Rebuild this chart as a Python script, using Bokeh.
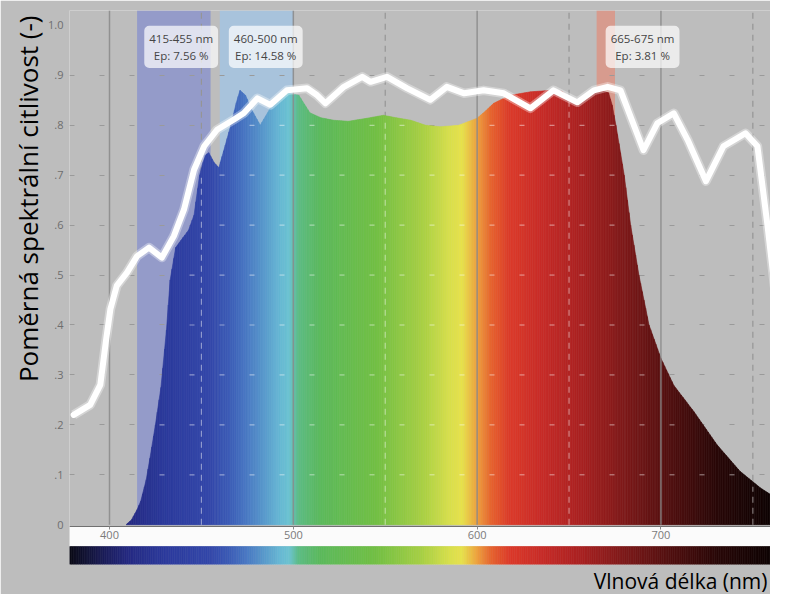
import numpy as np
from bokeh.plotting import figure
from bokeh.models import FixedTicker, Title, Label
from bokeh.embed import file_html
from bokeh.resources import INLINE

# ---------------- data ----------------
# LED emission spectrum (relative)
spec_wl = [409, 412, 415, 417, 420, 422, 425, 428, 431, 433, 436, 440, 443, 446, 449, 452, 454, 457, 459.5, 463,
           466, 469, 471, 474, 477.5, 482, 486, 490, 496, 503, 509, 515, 522, 530, 540, 549, 556, 564, 572, 580,
           590, 600, 605, 609, 618, 629, 640, 646, 651, 655, 659, 662, 667, 671.5, 673.5, 675.5, 678, 680, 683.5, 688,
           693.5, 700, 707, 718, 730.5, 743, 754, 768]
spec_val = [0, 0.01, 0.03, 0.047, 0.09, 0.133, 0.2, 0.275, 0.39, 0.49, 0.555, 0.575, 0.59, 0.62, 0.70, 0.74, 0.745, 0.725, 0.715, 0.76,
            0.80, 0.845, 0.87, 0.86, 0.83, 0.80, 0.825, 0.85, 0.865, 0.86, 0.825, 0.815, 0.81, 0.808, 0.814, 0.82, 0.815, 0.81, 0.80, 0.797,
            0.80, 0.814, 0.83, 0.844, 0.86, 0.867, 0.87, 0.868, 0.855, 0.84, 0.855, 0.864, 0.87, 0.865, 0.84, 0.80, 0.745, 0.70, 0.60, 0.50,
            0.40, 0.333, 0.279, 0.226, 0.16, 0.107, 0.074, 0.04]

# relative spectral sensitivity (white curve)
sens_wl = [380.5, 389.5, 395, 398, 400.5, 404, 409.5, 415, 421.5, 428.5, 435, 440.5, 446, 451.5, 458.5, 467.5, 473, 480.5,
           487.5, 496.5, 507.5, 513, 517.5, 527.5, 537.5, 542, 551, 562, 574.5, 583.5, 593, 603.5, 614.5, 629, 641.5, 654.5,
           663.5, 671, 678, 683.5, 690.5, 698, 707, 714.5, 724.5, 734, 746, 752.5, 758, 763, 768]
sens_val = [0.22, 0.24, 0.28, 0.366, 0.432, 0.479, 0.505, 0.538, 0.555, 0.535, 0.578, 0.631, 0.711, 0.758, 0.791, 0.811, 0.824, 0.854,
            0.841, 0.87, 0.874, 0.86, 0.844, 0.877, 0.897, 0.887, 0.897, 0.874, 0.851, 0.877, 0.864, 0.87, 0.864, 0.834, 0.87, 0.846,
            0.87, 0.877, 0.87, 0.817, 0.75, 0.804, 0.824, 0.771, 0.688, 0.758, 0.784, 0.758, 0.598, 0.439, 0.611]

# highlighted bands
band_lo = [415, 460, 665]
band_hi = [455, 500, 675]
band_name = ["415-455 nm", "460-500 nm", "665-675 nm"]
band_ep = ["Ep: 7.56 %", "Ep: 14.58 %", "Ep: 3.81 %"]

# ticks
x_ticks = [400, 500, 600, 700]
x_half_ticks = [450, 550, 650, 750]
y_ticks = [0, 0.1, 0.2, 0.3, 0.4, 0.5, 0.6, 0.7, 0.8, 0.9, 1.0]
y_tick_labels = ["0", ".1", ".2", ".3", ".4", ".5", ".6", ".7", ".8", ".9", "1.0"]
y_grid_ticks = [0.1, 0.2, 0.3, 0.4, 0.5, 0.6, 0.7, 0.8, 0.9]

# wavelength -> colour stops
cmap_wl = [378, 395, 410, 430, 455, 465, 475, 485, 492, 498, 503, 515, 545, 570, 585, 592, 600, 608, 618, 635, 655, 680, 705, 730, 768]
cmap_hex = ["#0a0a14", "#1a1b52", "#252a82", "#2c3a9c", "#3448aa", "#3c5cb6", "#4a7ac4", "#5a9ccc", "#66b6d4", "#6cc4d2",
            "#5cbc84", "#5cba5c", "#72c044", "#a8d044", "#d8e04c", "#e8e24c", "#eea23e", "#e6622e", "#dc3a2a", "#c82c28",
            "#ac2222", "#7e1a1a", "#521010", "#2a0808", "#060202"]

# ---------------- layout / style ----------------
BG = "#bdbdbd"
W, H = 770, 594
LEFT, TOP, BOTTOM = 69, 10, 27
x_start, x_end = 378.24, 759.6
y_start, y_end = -0.0797, 1.0299
px_per_nm = (W - LEFT) / (x_end - x_start)
band_colors = ["#949bc9", "#a8c3dc", "#d79b8e"]
label_dx = [4, 5, 20]
label_y = 0.957
FONT = "Open Sans"

_rgb = np.array([[int(h[i:i + 2], 16) for i in (1, 3, 5)] for h in cmap_hex], dtype=float)


def wl_color(w):
    r, g, b = (int(round(np.interp(w, cmap_wl, _rgb[:, k]))) for k in range(3))
    return "#%02x%02x%02x" % (r, g, b)


def spec_at(w):
    return np.interp(w, spec_wl, spec_val, left=0.0, right=spec_val[-1])


p = figure(width=W, height=H, x_range=(x_start, x_end), y_range=(y_start, y_end),
           output_backend="svg", toolbar_location=None,
           min_border_left=LEFT, min_border_right=0, min_border_top=TOP, min_border_bottom=BOTTOM,
           background_fill_color=BG, border_fill_color=BG, outline_line_color=None)

# bands (behind everything)
p.quad(left=band_lo, right=band_hi, bottom=0, top=y_end, fill_color=band_colors, line_color=None, level="underlay")

# grid: horizontal dashed
p.xgrid.visible = False
p.ygrid.ticker = FixedTicker(ticks=y_grid_ticks)
p.ygrid.grid_line_color = "#9a9a9a"
p.ygrid.grid_line_dash = "5 25"
p.ygrid.grid_line_width = 1.2

# vertical dashed at half-hundreds (below fill)
p.segment(x0=x_half_ticks, y0=0, x1=x_half_ticks, y1=y_end, line_color="#959595", line_width=1.2, line_dash="6 5")

# spectrum fill, coloured by wavelength
xs, ys, cols = [], [], []
for i in range(len(spec_wl) - 1):
    a, b = spec_wl[i], spec_wl[i + 1]
    ya, yb = spec_val[i], spec_val[i + 1]
    n = max(1, int(np.ceil(b - a)))
    for j in range(n):
        x0 = a + (b - a) * j / n
        x1 = a + (b - a) * (j + 1) / n
        y0 = ya + (yb - ya) * j / n
        y1 = ya + (yb - ya) * (j + 1) / n
        xs.append([x0, x1, x1, x0])
        ys.append([0, 0, y1, y0])
        cols.append(wl_color((x0 + x1) / 2))
p.patches(xs=xs, ys=ys, fill_color=cols, line_color=cols, line_width=0.6)

# light grid marks over the fill
hx0, hx1, hy = [], [], []
period = 30 / px_per_nm
dash = 5 / px_per_nm
for v in y_grid_ticks:
    k = 0
    while True:
        a = x_start + k * period
        if a > x_end:
            break
        b = a + dash
        if min(spec_at(a), spec_at(b)) > v + 0.012:
            hx0.append(a); hx1.append(b); hy.append(v)
        k += 1
p.segment(x0=hx0, y0=hy, x1=hx1, y1=hy, line_color="white", line_alpha=0.45, line_width=1.2)
half_top = [float(spec_at(x)) - 0.01 for x in x_half_ticks]
p.segment(x0=x_half_ticks, y0=0, x1=x_half_ticks, y1=half_top, line_color="white", line_alpha=0.45,
          line_width=1.2, line_dash="6 5")

# solid vertical lines at hundreds
p.segment(x0=x_ticks, y0=0, x1=x_ticks, y1=y_end, line_color="#8a8a8a", line_alpha=0.85, line_width=1.5)

# sensitivity curve
p.line(sens_wl, sens_val, line_color="white", line_alpha=0.35, line_width=9.5, line_join="round")
p.line(sens_wl, sens_val, line_color="white", line_width=6, line_join="round", line_cap="round")

# white strip + colour bar under the plot
p.quad(left=x_start, right=x_end, bottom=-0.0438, top=-0.004, fill_color="#fbfbfb", line_color=None)
cb_edges = np.arange(x_start, x_end + 1.0, 1.0)
cb_cols = [wl_color((cb_edges[i] + cb_edges[i + 1]) / 2) for i in range(len(cb_edges) - 1)]
p.quad(left=cb_edges[:-1], right=cb_edges[1:], bottom=y_start, top=-0.0438,
       fill_color=cb_cols, line_color=cb_cols, line_width=0.6)

# band labels
for lo, hi, nm, ep, dx in zip(band_lo, band_hi, band_name, band_ep, label_dx):
    p.add_layout(Label(x=(lo + hi) / 2 + dx, y=label_y, text=nm + "\n" + ep, text_align="center",
                       text_baseline="middle", text_font=FONT, text_font_size="11.5px",
                       text_color="#454545", background_fill_color="white", background_fill_alpha=0.7,
                       padding=5, border_radius=5, text_line_height=1.15))

# axes
xa = p.xaxis[0]
xa.ticker = FixedTicker(ticks=x_ticks)
xa.fixed_location = -0.004
xa.axis_line_color = "#707070"
xa.major_tick_in = 0
xa.major_tick_out = 3
xa.major_tick_line_color = "#8a8a8a"
xa.minor_tick_line_color = None
xa.major_label_standoff = 1
xa.major_label_text_font = FONT
xa.major_label_text_font_size = "11px"
xa.major_label_text_color = "#7a7a7a"

ya = p.yaxis[0]
ya.ticker = FixedTicker(ticks=y_ticks)
ya.major_label_overrides = {t: s for t, s in zip(y_ticks, y_tick_labels)}
ya.axis_line_color = None
ya.major_tick_line_color = None
ya.minor_tick_line_color = None
ya.major_tick_in = 0
ya.major_tick_out = 0
ya.major_label_standoff = 6
ya.major_label_text_font = FONT
ya.major_label_text_font_size = "11px"
ya.major_label_text_color = "#6e6e6e"

p.add_layout(Title(text="Poměrná spektrální citlivost (-)", align="right", offset=5,
                   text_font=FONT, text_font_size="26px", text_font_style="normal",
                   text_color="black", standoff=0), "left")

p.add_layout(Title(text="Vlnová délka (nm)", align="right", offset=3,
                   text_font=FONT, text_font_size="21px", text_font_style="normal",
                   text_color="black", standoff=0), "below")

open("out.html", "w").write(file_html(p, INLINE))
